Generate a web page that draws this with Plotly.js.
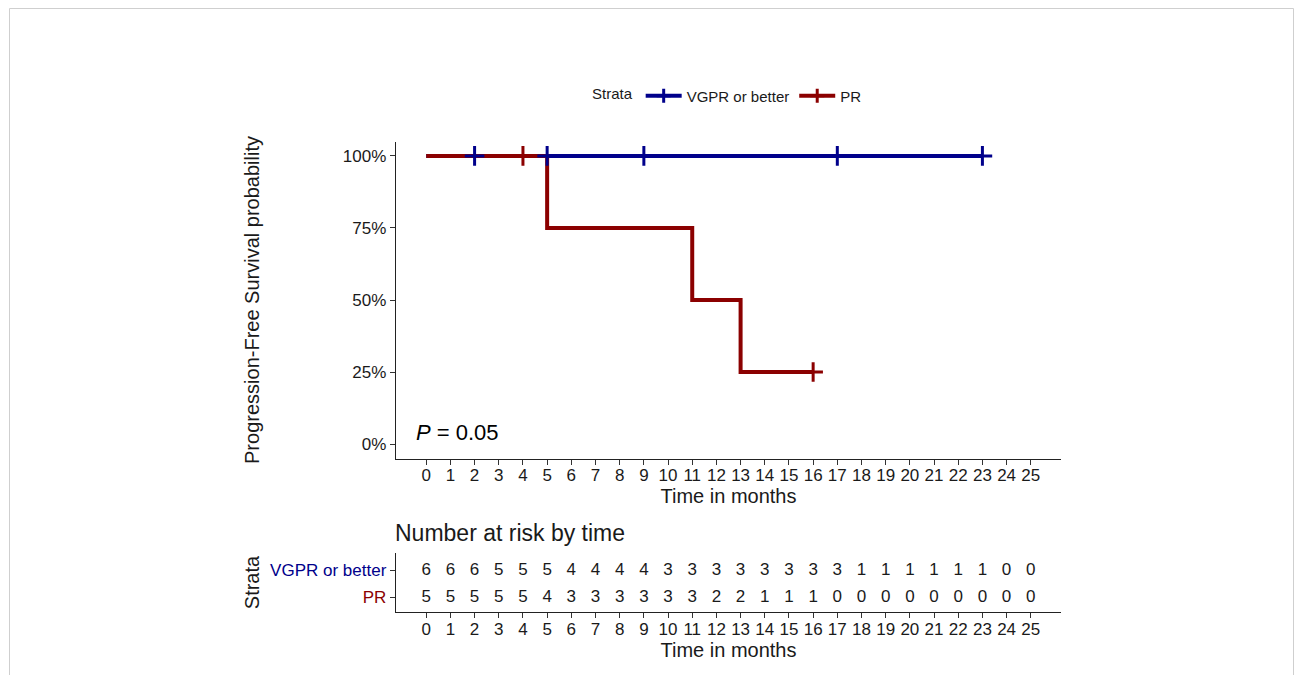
<!DOCTYPE html>
<html><head><meta charset="utf-8">
<script src="https://cdn.plot.ly/plotly-3.0.1.min.js"></script>
<style>html,body{margin:0;padding:0;background:#fff}#chart{width:1295px;height:675px}</style>
</head><body><div id="chart"></div>
<script>
// ---- data ----
const strata = ['VGPR or better', 'PR'];
const strataColors = ['#00008B', '#8B0000'];
const vgprTimes = [0, 23];
const vgprSurv = [1, 1];
const prTimes = [0, 5, 11, 13, 16];
const prSurv = [1, 0.75, 0.5, 0.25, 0.25];
const vgprCensorTimes = [2, 5, 9, 17, 23];
const vgprCensorSurv = [1, 1, 1, 1, 1];
const prCensorTimes = [4, 16];
const prCensorSurv = [1, 0.25];
const timeTicks = [0,1,2,3,4,5,6,7,8,9,10,11,12,13,14,15,16,17,18,19,20,21,22,23,24,25];
const survTicks = [0, 0.25, 0.5, 0.75, 1];
const survTickLabels = ['0%', '25%', '50%', '75%', '100%'];
const vgprAtRisk = [6,6,6,5,5,5,4,4,4,4,3,3,3,3,3,3,3,3,1,1,1,1,1,1,0,0];
const prAtRisk = [5,5,5,5,5,4,3,3,3,3,3,3,2,2,1,1,1,0,0,0,0,0,0,0,0,0];
const pValueText = '<i>P</i> = 0.05';
const yTitle = 'Progression-Free Survival probability';
const xTitle = 'Time in months';
const tableTitle = 'Number at risk by time';
const legendTitle = 'Strata';

// ---- layout helpers ----
const W = 1295, H = 675;
const fx = p => p / W;
const fy = p => 1 - p / H;
const FONT = 'Liberation Sans, Arial, Helvetica, sans-serif';
const TXT = '#1a1a1a';

const lineW = 4;
const censorSize = 14;

const traces = [
  {x: vgprTimes, y: vgprSurv, mode: 'lines', line: {shape: 'hv', color: strataColors[0], width: lineW},
   showlegend: false, hoverinfo: 'skip', xaxis: 'x', yaxis: 'y'},
  {x: prTimes, y: prSurv, mode: 'lines', line: {shape: 'hv', color: strataColors[1], width: lineW},
   showlegend: false, hoverinfo: 'skip', xaxis: 'x', yaxis: 'y'},
  {x: vgprCensorTimes, y: vgprCensorSurv, mode: 'markers',
   marker: {symbol: 'cross-thin', size: censorSize, line: {color: strataColors[0], width: 3}},
   showlegend: false, hoverinfo: 'skip', xaxis: 'x', yaxis: 'y'},
  {x: prCensorTimes, y: prCensorSurv, mode: 'markers',
   marker: {symbol: 'cross-thin', size: censorSize, line: {color: strataColors[1], width: 3}},
   showlegend: false, hoverinfo: 'skip', xaxis: 'x', yaxis: 'y'},
  // legend entries
  {x: [null], y: [null], name: strata[0], mode: 'lines+markers', line: {color: strataColors[0], width: lineW},
   marker: {symbol: 'cross-thin', size: 10, line: {color: strataColors[0], width: 3}}, xaxis: 'x', yaxis: 'y'},
  {x: [null], y: [null], name: strata[1], mode: 'lines+markers', line: {color: strataColors[1], width: lineW},
   marker: {symbol: 'cross-thin', size: 10, line: {color: strataColors[1], width: 3}}, xaxis: 'x', yaxis: 'y'},
  // risk table
  {x: timeTicks, y: timeTicks.map(() => strata[0]), text: vgprAtRisk.map(String), mode: 'text',
   textfont: {family: FONT, size: 17, color: TXT}, showlegend: false, hoverinfo: 'skip', xaxis: 'x2', yaxis: 'y2'},
  {x: timeTicks, y: timeTicks.map(() => strata[1]), text: prAtRisk.map(String), mode: 'text',
   textfont: {family: FONT, size: 17, color: TXT}, showlegend: false, hoverinfo: 'skip', xaxis: 'x2', yaxis: 'y2'}
];

const axisCommon = {
  showline: true, linecolor: '#222', linewidth: 1.3, zeroline: false, showgrid: false,
  ticks: 'outside', ticklen: 5, tickwidth: 1, tickcolor: '#333',
  tickfont: {family: FONT, size: 17, color: TXT}, automargin: false, fixedrange: true
};

const layout = {
  width: W, height: H,
  margin: {l: 0, r: 0, t: 0, b: 0},
  paper_bgcolor: '#fff', plot_bgcolor: '#fff',
  font: {family: FONT, color: TXT},
  showlegend: true,
  legend: {orientation: 'h', x: fx(590), xanchor: 'left', y: fy(96), yanchor: 'middle',
           title: {text: legendTitle, side: 'left', font: {family: FONT, size: 15, color: TXT}},
           font: {family: FONT, size: 15, color: TXT}, bgcolor: 'rgba(0,0,0,0)', itemwidth: 36},
  xaxis: Object.assign({}, axisCommon, {
    domain: [fx(396), fx(1061)], range: [-1.25, 26.25], tickmode: 'array', tickvals: timeTicks,
    ticktext: timeTicks.map(String), anchor: 'y', ticklabelstandoff: -4,
    title: {text: xTitle, font: {family: FONT, size: 20, color: TXT}, standoff: 2}
  }),
  yaxis: Object.assign({}, axisCommon, {
    domain: [fy(458.5), fy(141.5)], range: [-0.05, 1.05], tickmode: 'array', tickvals: survTicks,
    ticktext: survTickLabels, anchor: 'x',
    title: {text: yTitle, font: {family: FONT, size: 20, color: TXT}, standoff: 77}
  }),
  xaxis2: Object.assign({}, axisCommon, {
    domain: [fx(396), fx(1061)], range: [-1.25, 26.25], tickmode: 'array', tickvals: timeTicks,
    ticktext: timeTicks.map(String), anchor: 'y2', ticklabelstandoff: -4,
    title: {text: xTitle, font: {family: FONT, size: 20, color: TXT}, standoff: 0}
  }),
  yaxis2: Object.assign({}, axisCommon, {
    domain: [fy(612), fy(553)], range: [-0.55, 1.65], type: 'category',
    categoryorder: 'array', categoryarray: [strata[1], strata[0]],
    tickmode: 'array', tickvals: strata,
    ticktext: strata.map((s, i) => '<span style="color:' + strataColors[i] + '">' + s + '</span>'),
    anchor: 'x2',
    title: {text: legendTitle, font: {family: FONT, size: 20, color: TXT}, standoff: 5}
  }),
  annotations: [
    {text: pValueText, xref: 'paper', yref: 'paper', x: fx(414), y: fy(433), xanchor: 'left', yanchor: 'middle',
     showarrow: false, font: {family: FONT, size: 22, color: '#000'}},
    {text: tableTitle, xref: 'paper', yref: 'paper', x: fx(393), y: fy(533), xanchor: 'left', yanchor: 'middle',
     showarrow: false, font: {family: FONT, size: 23, color: TXT}}
  ],
  shapes: [
    {type: 'rect', xref: 'paper', yref: 'paper', x0: fx(9.5), x1: fx(1293.5), y0: fy(720), y1: fy(8.5),
     line: {color: '#cfcfcf', width: 1}, fillcolor: 'rgba(0,0,0,0)', layer: 'below'}
  ]
};

Plotly.newPlot('chart', traces, layout, {displayModeBar: false, staticPlot: true});
</script>
</body></html>
